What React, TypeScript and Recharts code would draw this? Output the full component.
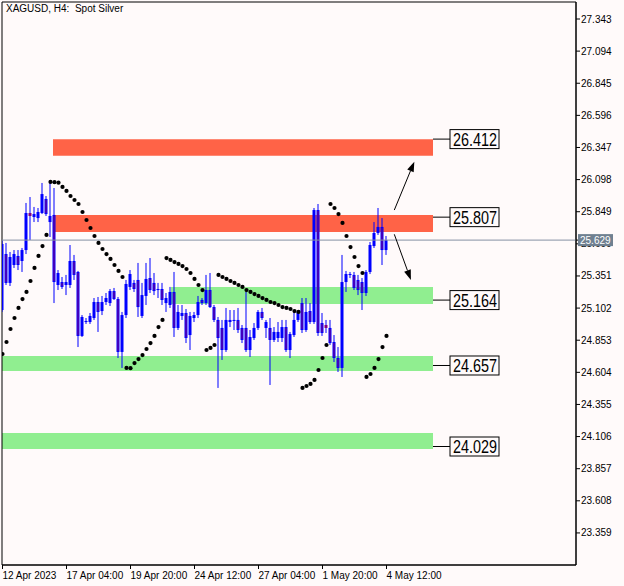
import React from "react";
import {
  ComposedChart,
  Bar,
  Scatter,
  XAxis,
  YAxis,
  ReferenceArea,
  ReferenceLine,
} from "recharts";

// ---- Data (XAGUSD H4) ----
const openP = [
  25.087, 25.521, 25.297, 25.436, 25.506, 25.467, 25.552, 25.839, 25.808, 25.8,
  25.839, 25.948, 25.769, 25.824, 25.281, 25.304, 25.281, 25.281, 25.467, 25.382,
  24.886, 24.994, 24.994, 25.025, 25.149, 25.079, 25.149, 25.141, 25.234, 25.172,
  24.762, 25.048, 25.266, 25.297, 25.32, 25.041, 25.196, 25.335, 25.297, 25.242,
  25.25, 25.141, 25.126, 25.227, 24.948, 25.041, 25.064, 24.893, 25.025, 25.048,
  25.165, 25.141, 25.242, 25.11, 25.01, 24.948, 24.777, 24.994, 25.002, 25.01,
  24.948, 24.948, 24.777, 24.87, 24.948, 25.072, 24.948, 24.948, 24.855, 24.87,
  24.87, 24.955, 24.777, 24.893, 25.01, 25.141, 24.932, 25.079, 24.994, 25.862,
  24.986, 24.971, 24.948, 24.839, 24.715, 24.638, 25.304, 25.359, 25.359, 25.32,
  25.304, 25.219, 25.382, 25.583, 25.684, 25.731, 25.552,
];
const highP = [
  25.63, 25.607, 25.537, 25.552, 25.552, 25.568, 25.917, 25.963, 25.886, 25.878,
  26.072, 25.971, 26.072, 26.033, 25.397, 25.343, 25.359, 25.591, 25.514, 25.39,
  25.048, 25.025, 25.064, 25.18, 25.188, 25.196, 25.219, 25.25, 25.258, 25.188,
  25.072, 25.32, 25.397, 25.32, 25.452, 25.297, 25.452, 25.49, 25.374, 25.297,
  25.297, 25.219, 25.266, 25.382, 25.126, 25.126, 25.095, 25.072, 25.072, 25.196,
  25.18, 25.359, 25.374, 25.126, 25.033, 25.01, 25.103, 25.087, 25.087, 25.103,
  24.971, 25.227, 24.932, 24.986, 25.087, 25.103, 25.01, 25.025, 24.955, 24.994,
  25.01, 25.01, 24.917, 25.072, 25.079, 25.18, 25.18, 25.141, 25.878, 25.909,
  25.064, 25.01, 25.01, 24.893, 24.8, 25.514, 25.39, 25.382, 25.382, 25.359,
  25.335, 25.397, 25.614, 25.769, 25.878, 25.8, 25.661,
];
const lowP = [
  25.072, 25.281, 25.273, 25.413, 25.397, 25.382, 25.521, 25.63, 25.769, 25.769,
  25.831, 25.816, 25.653, 25.141, 25.242, 25.25, 25.203, 25.258, 25.32, 24.8,
  24.878, 24.979, 24.979, 25.01, 24.917, 25.048, 25.126, 25.118, 25.165, 24.715,
  24.638, 25.025, 25.242, 25.227, 25.033, 25.025, 25.126, 25.219, 25.203, 25.18,
  25.126, 25.072, 25.103, 24.878, 24.932, 25.01, 24.831, 24.777, 24.994, 25.025,
  25.126, 25.126, 25.103, 24.994, 24.483, 24.7, 24.762, 24.955, 24.932, 24.909,
  24.831, 24.762, 24.723, 24.855, 24.932, 25.01, 24.87, 24.506, 24.839, 24.839,
  24.839, 24.762, 24.715, 24.878, 24.994, 24.909, 24.917, 24.979, 24.979, 24.886,
  24.886, 24.909, 24.816, 24.684, 24.607, 24.568, 25.227, 25.335, 25.242, 25.203,
  25.087, 25.196, 25.366, 25.568, 25.669, 25.436, 25.514,
];
const closeP = [
  25.599, 25.297, 25.498, 25.521, 25.436, 25.552, 25.839, 25.816, 25.831, 25.847,
  25.986, 25.831, 25.816, 25.304, 25.374, 25.266, 25.304, 25.467, 25.359, 24.886,
  25.033, 25.002, 25.041, 25.149, 25.072, 25.149, 25.18, 25.234, 25.172, 24.762,
  25.048, 25.289, 25.366, 25.25, 25.11, 25.203, 25.328, 25.242, 25.234, 25.25,
  25.165, 25.18, 25.227, 24.948, 25.072, 25.064, 24.87, 25.041, 25.048, 25.149,
  25.141, 25.242, 25.11, 25.01, 24.87, 24.777, 25.01, 25.01, 25.01, 24.932,
  24.855, 24.777, 24.878, 24.948, 25.072, 25.025, 24.994, 24.855, 24.917, 24.917,
  24.955, 24.777, 24.901, 25.01, 25.072, 24.932, 25.072, 24.994, 25.862, 24.909,
  24.909, 24.948, 24.831, 24.715, 24.638, 25.304, 25.366, 25.366, 25.258, 25.242,
  25.219, 25.382, 25.591, 25.684, 25.731, 25.552, 25.629,
];
// Parabolic SAR dots
const sarP = [
  24.746, 24.839, 24.94, 25.025, 25.103, 25.172, 25.227, 25.312, 25.413, 25.506,
  25.583, 25.669, 26.08, 26.078, 26.074, 26.041, 26.01, 25.971, 25.94, 25.909,
  25.847, 25.785, 25.723, 25.661, 25.607, 25.56, 25.521, 25.483, 25.436, 25.39,
  25.343, 24.638, 24.636, 24.676, 24.707, 24.738, 24.785, 24.831, 24.886, 24.955,
  25.01, 25.49, 25.475, 25.459, 25.444, 25.428, 25.405, 25.374, 25.328, 25.281,
  25.242, 24.777, 24.793, 24.816, 25.359, 25.343, 25.328, 25.312, 25.297, 25.281,
  25.266, 25.242, 25.227, 25.211, 25.196, 25.18, 25.165, 25.149, 25.141, 25.126,
  25.11, 25.103, 25.095, 25.079, 25.072, 24.483, 24.498, 24.514, 24.545, 24.622,
  24.715, 24.816, 25.909, 25.878, 25.831, 25.762, 25.661, 25.575, 25.498, 25.428,
  25.374, 24.568, 24.591, 24.638, 24.707, 24.8, 24.886,
];

const xTickBars = [0, 16, 32, 48, 64, 80, 96];
const xTickLabels = [
  "12 Apr 2023",
  "17 Apr 04:00",
  "19 Apr 20:00",
  "24 Apr 12:00",
  "27 Apr 04:00",
  "1 May 20:00",
  "4 May 12:00",
];
const yTicks = [
  23.359, 23.608, 23.857, 24.106, 24.355, 24.604, 24.853, 25.102, 25.351, 25.6,
  25.849, 26.098, 26.347, 26.596, 26.845, 27.094, 27.343,
];

// Support / resistance zones
const zoneHigh = [26.41, 25.824, 25.266, 24.731, 24.134];
const zoneLow = [26.283, 25.692, 25.134, 24.614, 24.01];
const zoneStartBar = [12.625, 12.625, 42.125, -0.125, -0.125];
const zoneEndBar = 107.625;
const zoneColors = ["#FF6347", "#FF6347", "#90EE90", "#90EE90", "#90EE90"];
const levelValues = [26.412, 25.807, 25.164, 24.657, 24.029];
const levelLinkBar = 111.875;

// Arrows (tail -> head)
const arrowUp = [
  { x: 97.95, y: 25.862 },
  { x: 102.95, y: 26.237 },
];
const arrowDown = [
  { x: 97.95, y: 25.674 },
  { x: 102.1, y: 25.32 },
];

const lastPrice = 25.629;
const xDomain: [number, number] = [-0.125, 143.375];
const yDomain: [number, number] = [23.1104, 27.4748];

const FONT = "'Liberation Sans', Arial, sans-serif";
const BG = "#FFFAFA";

const data = openP.map((o, i) => ({
  i,
  range: [lowP[i], highP[i]],
  o,
  h: highP[i],
  l: lowP[i],
  c: closeP[i],
  sar: sarP[i],
}));

// y-axis ticks: the regular grid plus the last price (drawn last, on top)
const yAxisTicks = [...yTicks, lastPrice];

const Candle = (props: any) => {
  const { x, y, width, height, payload } = props;
  if (x == null || y == null || !payload) return null;
  const top = Math.min(y, y + height);
  const hgt = Math.abs(height);
  const { o, c, h, l } = payload;
  const span = h - l || 1;
  const py = (v: number) => top + ((h - v) / span) * hgt;
  const cx = x + width / 2;
  const yo = py(o);
  const yc = py(c);
  const bt = Math.min(yo, yc);
  const bb = Math.max(yo, yc);
  const bh = Math.max(bb - bt, 1);
  const bull = c >= o;
  return (
    <g>
      <line x1={cx} y1={top} x2={cx} y2={top + hgt} stroke="#0000FF" strokeWidth={1} />
      {bull ? (
        <rect x={cx - 1.5} y={bt} width={3} height={bh} fill="#0000FF" />
      ) : bh >= 3 ? (
        <rect
          x={cx - 1}
          y={bt + 0.5}
          width={2}
          height={bh - 1}
          fill="#800080"
          stroke="#0000FF"
          strokeWidth={1}
        />
      ) : (
        <rect x={cx - 1.5} y={bt} width={3} height={bh} fill="#800080" />
      )}
    </g>
  );
};

const SarDot = (props: any) => {
  const { cx, cy } = props;
  if (cx == null || cy == null) return null;
  return <circle cx={cx} cy={cy} r={2.1} fill="#000" />;
};

const XTick = (props: any) => {
  const { x, y, payload } = props;
  const idx = xTickBars.indexOf(payload.value);
  return (
    <text x={x} y={y} dy={8} fontSize={10} fontFamily={FONT} fill="#000" textAnchor="start">
      {idx >= 0 ? xTickLabels[idx] : ""}
    </text>
  );
};

const YTick = (props: any) => {
  const { x, y, payload } = props;
  const v = Number(payload.value);
  if (v === lastPrice) {
    return (
      <g>
        <rect x={x - 3} y={y - 6} width={35} height={12} fill="#708090" />
        <text x={x - 1} y={y} dy={3.5} fontSize={10} fontFamily={FONT} fill="#FFFFFF" textAnchor="start">
          {v.toFixed(3)}
        </text>
      </g>
    );
  }
  return (
    <text x={x} y={y} dy={3.5} fontSize={10} fontFamily={FONT} fill="#000" textAnchor="start">
      {v.toFixed(3)}
    </text>
  );
};

const LevelTag = (props: any) => {
  const { x1, y1, x2, text } = props;
  if (x1 == null) return null;
  const bw = 49;
  const bh = 19;
  return (
    <g>
      <line x1={x1} y1={y1} x2={x2} y2={y1} stroke="#000" strokeWidth={1} />
      <rect x={x2} y={y1 - bh / 2} width={bw} height={bh} fill={BG} stroke="#000" strokeWidth={1} />
      <text
        x={x2 + 3}
        y={y1 + 6.5}
        fontSize={18}
        fontFamily={FONT}
        fill="#000"
        textLength={44}
        lengthAdjust="spacingAndGlyphs"
      >
        {text}
      </text>
    </g>
  );
};

const Arrow = (props: any) => {
  const { x1, y1, x2, y2 } = props;
  if (x1 == null) return null;
  const ang = Math.atan2(y2 - y1, x2 - x1);
  const L = 10;
  const W = 3.5;
  const bx = x2 - L * Math.cos(ang);
  const by = y2 - L * Math.sin(ang);
  const px = -Math.sin(ang) * W;
  const py = Math.cos(ang) * W;
  return (
    <g>
      <line x1={x1} y1={y1} x2={bx} y2={by} stroke="#000" strokeWidth={1} />
      <polygon points={`${x2},${y2} ${bx + px},${by + py} ${bx - px},${by - py}`} fill="#000" />
    </g>
  );
};

export default function App() {
  return (
    <div
      style={{
        position: "absolute",
        left: 0,
        top: 0,
        width: 624,
        height: 586,
        background: BG,
        overflow: "hidden",
      }}
    >
      <ComposedChart
        width={624}
        height={586}
        data={data}
        margin={{ top: 2, right: 0, bottom: 0, left: 2 }}
      >
        <XAxis
          dataKey="i"
          type="number"
          domain={xDomain}
          allowDataOverflow
          ticks={xTickBars}
          interval={0}
          height={21}
          tickSize={4}
          tickMargin={2}
          axisLine={{ stroke: "#000" }}
          tickLine={{ stroke: "#000" }}
          tick={<XTick />}
        />
        <YAxis
          orientation="right"
          type="number"
          domain={yDomain}
          allowDataOverflow
          ticks={yAxisTicks}
          interval={0}
          width={48}
          tickSize={4}
          tickMargin={1}
          axisLine={{ stroke: "#000" }}
          tickLine={{ stroke: "#000" }}
          tick={<YTick />}
        />
        {zoneHigh.map((hi, k) => (
          <ReferenceArea
            key={"z" + k}
            x1={zoneStartBar[k]}
            x2={zoneEndBar}
            y1={zoneLow[k]}
            y2={hi}
            fill={zoneColors[k]}
            fillOpacity={1}
            stroke="none"
          />
        ))}
        <ReferenceArea
          x1={xDomain[0]}
          x2={xDomain[1]}
          y1={yDomain[0]}
          y2={yDomain[1]}
          fill="none"
          stroke="#000"
          strokeWidth={1}
        />
        <ReferenceLine y={lastPrice} stroke="#8591A3" strokeWidth={1} />
        <Bar
          dataKey="range"
          barSize={3}
          isAnimationActive={false}
          shape={<Candle />}
        />
        <Scatter dataKey="sar" isAnimationActive={false} shape={<SarDot />} />
        {levelValues.map((v, k) => (
          <ReferenceLine
            key={"l" + k}
            segment={[
              { x: zoneEndBar, y: v },
              { x: levelLinkBar, y: v },
            ]}
            stroke="#000"
            shape={(p: any) => <LevelTag {...p} text={v.toFixed(3)} />}
          />
        ))}
        <ReferenceLine segment={arrowUp} stroke="#000" shape={(p: any) => <Arrow {...p} />} />
        <ReferenceLine segment={arrowDown} stroke="#000" shape={(p: any) => <Arrow {...p} />} />
      </ComposedChart>
      <div
        style={{
          position: "absolute",
          left: 6,
          top: 3,
          fontFamily: FONT,
          fontSize: 10,
          color: "#000",
          whiteSpace: "pre",
          lineHeight: "12px",
        }}
      >
        {"XAGUSD, H4:  Spot Silver"}
      </div>
    </div>
  );
}
